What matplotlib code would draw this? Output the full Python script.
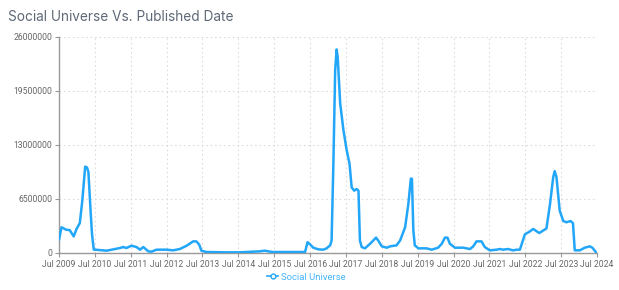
import matplotlib
matplotlib.use("Agg")
import matplotlib.pyplot as plt
from matplotlib.lines import Line2D
import numpy as np

# years offset from Jul 2009
t_offset = [0.0, 0.07, 0.2, 0.3, 0.41, 0.49, 0.58, 0.65, 0.73, 0.78, 0.82, 0.88, 0.92, 0.97,
            1.0, 1.33, 1.47, 1.70, 1.79, 1.88, 2.02, 2.16, 2.26, 2.35, 2.49, 2.58, 2.72, 3.0,
            3.18, 3.37, 3.56, 3.74, 3.83, 3.91, 3.97, 4.11, 4.67, 5.04, 5.41, 5.6, 5.74, 5.88,
            5.97, 6.71, 6.86, 6.93, 7.0, 7.09, 7.23, 7.37, 7.46, 7.56, 7.60, 7.65, 7.70, 7.74,
            7.77, 7.84, 7.93, 8.02, 8.10, 8.16, 8.23, 8.30, 8.35, 8.39, 8.44, 8.53, 8.67, 8.84,
            8.90, 9.0, 9.14, 9.23, 9.41, 9.51, 9.65, 9.74, 9.81, 9.84, 9.88, 9.92, 10.02, 10.25,
            10.39, 10.57, 10.67, 10.76, 10.83, 10.90, 11.04, 11.27, 11.46, 11.55, 11.64, 11.78,
            11.87, 12.01, 12.2, 12.29, 12.38, 12.52, 12.66, 12.76, 12.85, 12.99, 13.13, 13.22,
            13.39, 13.48, 13.59, 13.69, 13.78, 13.82, 13.87, 13.96, 14.06, 14.15, 14.26, 14.33,
            14.38, 14.52, 14.66, 14.80, 14.87, 14.99]
social_universe = [1.6, 3.1, 2.8, 2.75, 2.0, 2.9, 3.6, 6.3, 10.4, 10.3, 9.75, 5.1, 2.3, 0.4,
                   0.4, 0.28, 0.4, 0.6, 0.72, 0.6, 0.88, 0.72, 0.4, 0.72, 0.2, 0.16, 0.4, 0.4,
                   0.32, 0.48, 0.88, 1.4, 1.4, 1.0, 0.28, 0.12, 0.08, 0.08, 0.16, 0.2, 0.28, 0.16,
                   0.12, 0.12, 0.12, 1.3, 1.04, 0.64, 0.44, 0.4, 0.56, 0.92, 1.5, 10.75, 22.0, 24.5,
                   23.6, 18.0, 14.8, 12.4, 10.75, 7.9, 7.5, 7.7, 7.5, 1.5, 0.72, 0.56, 1.1, 1.85,
                   1.5, 0.8, 0.64, 0.8, 0.92, 1.5, 3.1, 5.9, 8.95, 8.95, 2.7, 0.92, 0.56, 0.56,
                   0.4, 0.64, 1.1, 1.85, 1.85, 1.1, 0.64, 0.64, 0.48, 0.8, 1.4, 1.4,
                   0.72, 0.32, 0.4, 0.48, 0.4, 0.48, 0.32, 0.4, 0.4, 2.25, 2.6, 2.9,
                   2.4, 2.65, 2.95, 5.9, 9.15, 9.85, 9.15, 5.1, 3.85, 3.7, 3.85, 3.6,
                   0.32, 0.32, 0.64, 0.8, 0.64, 0.0]
tick_labels = ["Jul %d" % y for y in range(2009, 2025)]
y_ticks = [0, 6500000, 13000000, 19500000, 26000000]

x = 2009.5 + np.array(t_offset)
y = np.array(social_universe) * 1e6

color = "#22A6F8"
plt.rcParams["font.family"] = ["Roboto", "DejaVu Sans"]

fig = plt.figure(figsize=(6.19, 2.9), dpi=100)
ax = fig.add_axes([59/619, 1-253/290, (597-59)/619, (253-37)/290])
ax.plot(x, y, color=color, lw=1.8, solid_joinstyle="round", solid_capstyle="round", zorder=3)

ax.set_xlim(2009.5, 2024.5)
ax.set_ylim(0, 26000000)
ax.set_xticks([2009.5 + i for i in range(16)])
ax.set_xticklabels(tick_labels)
ax.set_yticks(y_ticks)
ax.set_yticklabels([str(v) for v in y_ticks])
ax.grid(True, color="#dcdcdc", linestyle=(0, (1.5, 2.5)), linewidth=0.8)
for s in ["top", "right"]:
    ax.spines[s].set_visible(False)
for s in ["left", "bottom"]:
    ax.spines[s].set_color("#999999")
    ax.spines[s].set_linewidth(1.0)
ax.tick_params(axis="both", colors="#999999", labelcolor="#666666", labelsize=6.2, length=3, pad=2)

fig.text(8/619, 1-17/290, "Social Universe Vs. Published Date", fontsize=9.8, color="#5e6877",
         va="center", ha="left", family=["Inter", "DejaVu Sans"])

handle = Line2D([], [], color=color, lw=1.2, marker="o", markersize=3.5,
                markerfacecolor="white", markeredgecolor=color)
leg = fig.legend([handle], ["Social Universe"], loc="center", bbox_to_anchor=(0.495, 1-277/290),
                 frameon=False, fontsize=6.8, handlelength=1.2, handletextpad=0.3)
for txt in leg.get_texts():
    txt.set_color("#45b5fa")

fig.savefig("out.png", dpi=100)
